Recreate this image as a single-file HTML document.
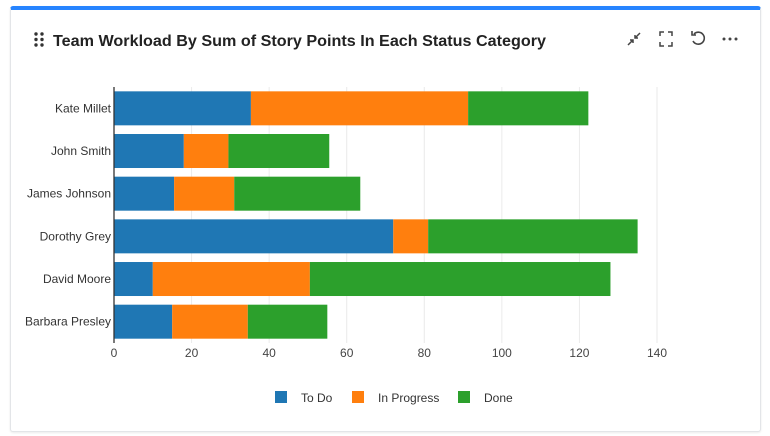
<!DOCTYPE html>
<html><head><meta charset="utf-8"><style>
body{margin:0;background:#fff;font-family:"Liberation Sans",sans-serif;}
#card{position:absolute;left:10px;top:6px;width:751px;height:426px;border:1px solid #e3e5e8;border-top:4px solid #2684ff;border-radius:3px;box-sizing:border-box;background:#fff;box-shadow:0 1px 2px rgba(0,0,0,.08);}
</style></head><body>
<div id="card"></div>
<svg width="770" height="436" style="position:absolute;left:0;top:0">
<g fill="#333">
<circle cx="36" cy="34" r="1.7"/><circle cx="42" cy="34" r="1.7"/><circle cx="36" cy="39.5" r="1.7"/><circle cx="42" cy="39.5" r="1.7"/><circle cx="36" cy="45" r="1.7"/><circle cx="42" cy="45" r="1.7"/></g>
<text x="53" y="46" font-size="16" font-weight="bold" fill="#222" textLength="493" lengthAdjust="spacingAndGlyphs">Team Workload By Sum of Story Points In Each Status Category</text>
<g stroke="#444" stroke-width="1.5" fill="none"><path d="M628 45l5-5M630 40h3v3M640 33l-5 5M638 38h-3v-3"/></g>
<g stroke="#444" stroke-width="1.5" fill="none"><path d="M660 36v-4h4M668 32h4v4M672 42v4h-4M664 46h-4v-4"/></g>
<g stroke="#444" stroke-width="1.6" fill="none"><path d="M694 34a6 6 0 1 1-1 7M692 31v4h4"/></g>
<g fill="#444"><circle cx="724" cy="39" r="1.5"/><circle cx="730" cy="39" r="1.5"/><circle cx="736" cy="39" r="1.5"/></g>
<g id="chart"></g>
</svg>
<script>
const categories=["Kate Millet","John Smith","James Johnson","Dorothy Grey","David Moore","Barbara Presley"];
const todo=[35.3,18,15.5,72,10,15];
const inProgress=[56,11.5,15.5,9,40.5,19.5];
const done=[31,26,32.5,54,77.5,20.5];
const ticks=[0,20,40,60,80,100,120,140];
const seriesNames=["To Do","In Progress","Done"];
const colors=["#1f77b4","#ff7f0e","#2ca02c"];
const ns="http://www.w3.org/2000/svg",g=document.getElementById('chart');
const x0=114,x1=657,xmax=140,yTop=87,rowH=42.67,barH=34;
const X=v=>x0+(x1-x0)*v/xmax;
const Y=i=>yTop+i*rowH+(rowH-barH)/2;
function mk(t,a){const e=document.createElementNS(ns,t);for(const k in a)e.setAttribute(k,a[k]);g.appendChild(e);return e;}
ticks.forEach(t=>{
 if(t>0){const l=mk('line',{x1:X(t),x2:X(t),y1:yTop,y2:yTop+6*rowH,stroke:'#eaeaea'});
 
 }
 const tx=mk('text',{x:X(t),y:357,'font-size':12,fill:'#444','text-anchor':'middle'});tx.textContent=t;
 
 
});
const series=[todo,inProgress,done];
categories.forEach((c,i)=>{
 let acc=0;
 series.forEach((s,j)=>{
  const r=mk('rect',{x:X(acc),y:Y(i),width:X(acc+s[i])-X(acc),height:barH,fill:colors[j]});
  
  
  acc+=s[i];
 });
 const t=mk('text',{x:111,y:Y(i)+barH/2+4,'font-size':12,fill:'#333','text-anchor':'end'});t.textContent=c;
 
 
});
const ax=mk('line',{x1:x0,x2:x0,y1:yTop,y2:yTop+6*rowH,stroke:'#333','stroke-width':1.3});


const lx=[275,352,458];
seriesNames.forEach((n,j)=>{
 const r=mk('rect',{x:lx[j],y:391,width:12,height:12,fill:colors[j]});
 
 
 const t=mk('text',{x:lx[j]+26,y:402,'font-size':12,fill:'#333'});t.textContent=n;
 
 
});
</script>
</body></html>
